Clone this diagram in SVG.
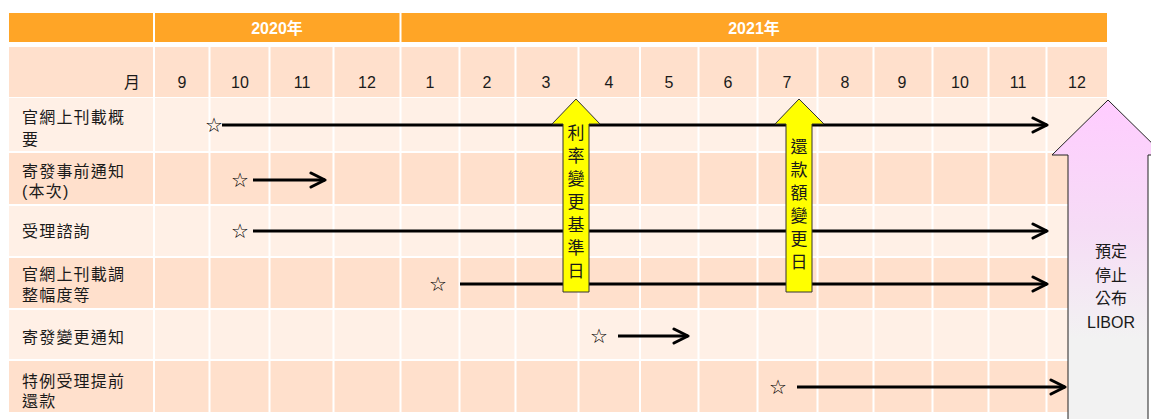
<svg xmlns="http://www.w3.org/2000/svg" width="1151" height="419" viewBox="0 0 1151 419">
<style>
.t{font-family:"Liberation Sans","Noto Sans CJK TC",sans-serif;fill:#1a1a1a}
.yr{font-size:16px;font-weight:bold;fill:#fff;text-anchor:middle}
.m{font-size:16px;text-anchor:middle}
.lb{font-size:16px;letter-spacing:1.2px}
.v{font-size:17px;text-anchor:middle}
.star{font-family:"DejaVu Sans",sans-serif;font-size:20px;text-anchor:middle;fill:#000}
.grid{stroke:#fff;stroke-width:2}
.ln{fill:none;stroke:#000;stroke-width:3;marker-end:url(#chev)}
.ya{fill:#ffff00;stroke:#333;stroke-width:1}
</style>
<defs>
<marker id="chev" markerUnits="userSpaceOnUse" markerWidth="20" markerHeight="20" viewBox="-18 -10 20 20" refX="0" refY="0" orient="auto">
<polyline points="-14,-7 0,0 -14,7" fill="none" stroke="#000" stroke-width="3" stroke-linecap="round" stroke-linejoin="round"/>
</marker>
<linearGradient id="pg" x1="0" y1="100" x2="0" y2="419" gradientUnits="userSpaceOnUse">
<stop offset="0" stop-color="#ffccff"/>
<stop offset="0.4" stop-color="#f6dcf6"/>
<stop offset="0.75" stop-color="#f2f2f2"/>
<stop offset="1" stop-color="#f2f2f2"/>
</linearGradient>
</defs>
<rect width="1151" height="419" fill="#fff"/>
<g id="table">
<rect x="9" y="13" width="1098" height="29" fill="#ffa526"/>
<rect x="9" y="47" width="1098" height="50" fill="#ffe0cc"/>
<rect x="9" y="98" width="1098" height="53" fill="#fff0e6"/>
<rect x="9" y="153" width="1098" height="51" fill="#ffe0cc"/>
<rect x="9" y="206" width="1098" height="50" fill="#fff0e6"/>
<rect x="9" y="258" width="1098" height="50" fill="#ffe0cc"/>
<rect x="9" y="310" width="1098" height="49" fill="#fff0e6"/>
<rect x="9" y="361" width="1098" height="51" fill="#ffe0cc"/>
<g class="grid">
<line x1="154" y1="13" x2="154" y2="412"/>
<line x1="400.5" y1="13" x2="400.5" y2="412"/>
<line x1="209.5" y1="47" x2="209.5" y2="412"/>
<line x1="269.5" y1="47" x2="269.5" y2="412"/>
<line x1="333.5" y1="47" x2="333.5" y2="412"/>
<line x1="459.5" y1="47" x2="459.5" y2="412"/>
<line x1="515.5" y1="47" x2="515.5" y2="412"/>
<line x1="578.5" y1="47" x2="578.5" y2="412"/>
<line x1="640" y1="47" x2="640" y2="412"/>
<line x1="698.5" y1="47" x2="698.5" y2="412"/>
<line x1="757.5" y1="47" x2="757.5" y2="412"/>
<line x1="817.5" y1="47" x2="817.5" y2="412"/>
<line x1="873.5" y1="47" x2="873.5" y2="412"/>
<line x1="932.5" y1="47" x2="932.5" y2="412"/>
<line x1="988.5" y1="47" x2="988.5" y2="412"/>
<line x1="1046.5" y1="47" x2="1046.5" y2="412"/>
</g>
<text class="t yr" x="277" y="34">2020年</text>
<text class="t yr" x="754" y="34">2021年</text>
<g class="t m">
<text x="140" y="88" text-anchor="end">月</text>
<text x="182" y="88">9</text>
<text x="240" y="88">10</text>
<text x="302" y="88">11</text>
<text x="367" y="88">12</text>
<text x="430" y="88">1</text>
<text x="487" y="88">2</text>
<text x="546" y="88">3</text>
<text x="609" y="88">4</text>
<text x="669" y="88">5</text>
<text x="728" y="88">6</text>
<text x="787" y="88">7</text>
<text x="845" y="88">8</text>
<text x="902" y="88">9</text>
<text x="960" y="88">10</text>
<text x="1018" y="88">11</text>
<text x="1077" y="88">12</text>
</g>
</g>
<g id="labels" class="t lb">
<text x="22" y="123">官網上刊載概</text>
<text x="22" y="145">要</text>
<text x="22" y="177">寄發事前通知</text>
<text x="22" y="197">(本次)</text>
<text x="22" y="237">受理諮詢</text>
<text x="22" y="280">官網上刊載調</text>
<text x="22" y="301">整幅度等</text>
<text x="22" y="343">寄發變更通知</text>
<text x="22" y="387">特例受理提前</text>
<text x="22" y="407">還款</text>
</g>
<g id="connectors">
<path class="ln" d="M222 125H1047"/>
<path class="ln" d="M253 180H325"/>
<path class="ln" d="M253 231H1047"/>
<path class="ln" d="M460 284H1047"/>
<path class="ln" d="M618 336H688"/>
<path class="ln" d="M797 387H1065"/>
</g>
<g id="stars">
<text class="star" x="214" y="132">☆</text>
<text class="star" x="240" y="187">☆</text>
<text class="star" x="240" y="238">☆</text>
<text class="star" x="438" y="291">☆</text>
<text class="star" x="599" y="343">☆</text>
<text class="star" x="778" y="394">☆</text>
</g>
<g id="arrow-rate">
<polygon class="ya" points="576,99 600,124 589,124 589,292 563,292 563,124 552,124"/>
<g class="t v">
<text x="576" y="139">利</text>
<text x="576" y="162">率</text>
<text x="576" y="185">變</text>
<text x="576" y="208">更</text>
<text x="576" y="231">基</text>
<text x="576" y="254">準</text>
<text x="576" y="277">日</text>
</g>
</g>
<g id="arrow-repay">
<polygon class="ya" points="799,99 824,124 812,124 812,292 786,292 786,124 775,124"/>
<g class="t v">
<text x="799" y="153">還</text>
<text x="799" y="176">款</text>
<text x="799" y="199">額</text>
<text x="799" y="222">變</text>
<text x="799" y="245">更</text>
<text x="799" y="268">日</text>
</g>
</g>
<g id="arrow-libor">
<polygon points="1108,100 1164,155 1148,155 1148,425 1068,425 1068,155 1052,155" fill="url(#pg)" stroke="#222" stroke-width="1"/>
<g class="t" font-size="16" text-anchor="middle">
<text x="1111" y="257">預定</text>
<text x="1111" y="281">停止</text>
<text x="1111" y="304">公布</text>
<text x="1111" y="328">LIBOR</text>
</g>
</g>
</svg>
